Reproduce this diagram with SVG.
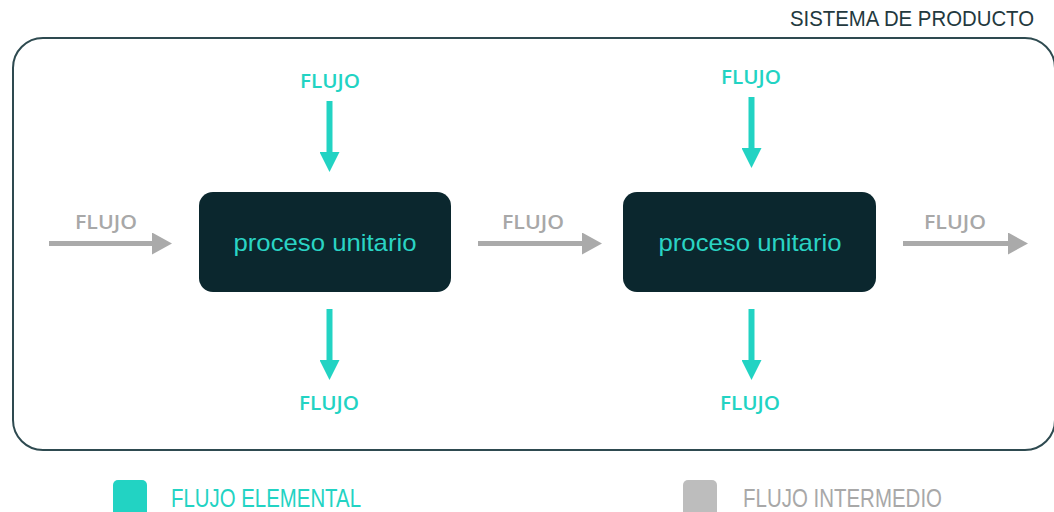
<svg xmlns="http://www.w3.org/2000/svg" width="1054" height="512" viewBox="0 0 1054 512">
  <style>
    .frame { fill: none; stroke: #2e4a50; stroke-width: 2; }
    .box { fill: #0b272e; }
    .boxtxt { font-family: "Liberation Sans", Arial, sans-serif; font-size: 24px; fill: #2ad4c4; text-anchor: middle; }
    .tl { font-family: "Open Sans", "Liberation Sans", sans-serif; font-weight: 600; font-size: 20px; fill: #22d3c3; text-anchor: middle; }
    .gl { font-family: "Open Sans", "Liberation Sans", sans-serif; font-weight: 600; font-size: 20px; fill: #a8a8a8; text-anchor: middle; }
    .title { font-family: "Liberation Sans", Arial, sans-serif; font-size: 22px; fill: #23393e; }
    .leg { font-family: "Liberation Sans", Arial, sans-serif; font-size: 25px; }
    .gline { stroke: #aaaaaa; stroke-width: 5; fill: none; }
    .tline { stroke: #22d3c3; stroke-width: 6; fill: none; }
  </style>
  <defs>
    <marker id="hg" markerUnits="userSpaceOnUse" markerWidth="20" markerHeight="22" viewBox="0 0 20 22" refX="2" refY="11" orient="auto">
      <path d="M0,0 L20,11 L0,22 Z" fill="#aaaaaa"/>
    </marker>
    <marker id="ht" markerUnits="userSpaceOnUse" markerWidth="20" markerHeight="20" viewBox="0 0 20 20" refX="2" refY="10" orient="auto">
      <path d="M0,0 L20,10 L0,20 Z" fill="#22d3c3"/>
    </marker>
  </defs>

  <text class="title" x="1034" y="26" text-anchor="end" textLength="244" lengthAdjust="spacingAndGlyphs">SISTEMA DE PRODUCTO</text>
  <g id="sistema">
    <rect class="frame" x="13" y="38" width="1042" height="412" rx="30" ry="30"/>
  </g>

  <g id="proceso1">
    <rect class="box" x="199" y="192" width="252" height="100" rx="14" ry="14"/>
    <text class="boxtxt" x="325" y="251" textLength="183" lengthAdjust="spacingAndGlyphs">proceso unitario</text>
  </g>
  <g id="proceso2">
    <rect class="box" x="623" y="192" width="253" height="100" rx="14" ry="14"/>
    <text class="boxtxt" x="750" y="251" textLength="183" lengthAdjust="spacingAndGlyphs">proceso unitario</text>
  </g>

  <g id="connectors">
    <line class="gline" x1="49" y1="243.5" x2="154" y2="243.5" marker-end="url(#hg)"/>
    <line class="gline" x1="478" y1="243.5" x2="584" y2="243.5" marker-end="url(#hg)"/>
    <line class="gline" x1="903" y1="243.5" x2="1010" y2="243.5" marker-end="url(#hg)"/>
    <line class="tline" x1="329.5" y1="101" x2="329.5" y2="154" marker-end="url(#ht)"/>
    <line class="tline" x1="751.5" y1="97" x2="751.5" y2="150" marker-end="url(#ht)"/>
    <line class="tline" x1="329.5" y1="309" x2="329.5" y2="362" marker-end="url(#ht)"/>
    <line class="tline" x1="751.5" y1="309" x2="751.5" y2="362" marker-end="url(#ht)"/>
  </g>

  <g id="labels">
    <text class="tl" x="330" y="88" textLength="60" lengthAdjust="spacingAndGlyphs">FLUJO</text>
    <text class="tl" x="751" y="84" textLength="60" lengthAdjust="spacingAndGlyphs">FLUJO</text>
    <text class="tl" x="329" y="410" textLength="60" lengthAdjust="spacingAndGlyphs">FLUJO</text>
    <text class="tl" x="750" y="410" textLength="60" lengthAdjust="spacingAndGlyphs">FLUJO</text>
    <text class="gl" x="106" y="229" textLength="62" lengthAdjust="spacingAndGlyphs">FLUJO</text>
    <text class="gl" x="533" y="229" textLength="62" lengthAdjust="spacingAndGlyphs">FLUJO</text>
    <text class="gl" x="955" y="229" textLength="62" lengthAdjust="spacingAndGlyphs">FLUJO</text>
  </g>

  <g id="legend-elemental">
    <rect x="113" y="480" width="34" height="40" rx="5" fill="#22d3c3"/>
    <text class="leg" x="171" y="507" fill="#22d3c3" textLength="190" lengthAdjust="spacingAndGlyphs">FLUJO ELEMENTAL</text>
  </g>
  <g id="legend-intermedio">
    <rect x="683" y="480" width="34" height="40" rx="5" fill="#bdbdbd"/>
    <text class="leg" x="743" y="507" fill="#a8a8a8" textLength="199" lengthAdjust="spacingAndGlyphs">FLUJO INTERMEDIO</text>
  </g>
</svg>
